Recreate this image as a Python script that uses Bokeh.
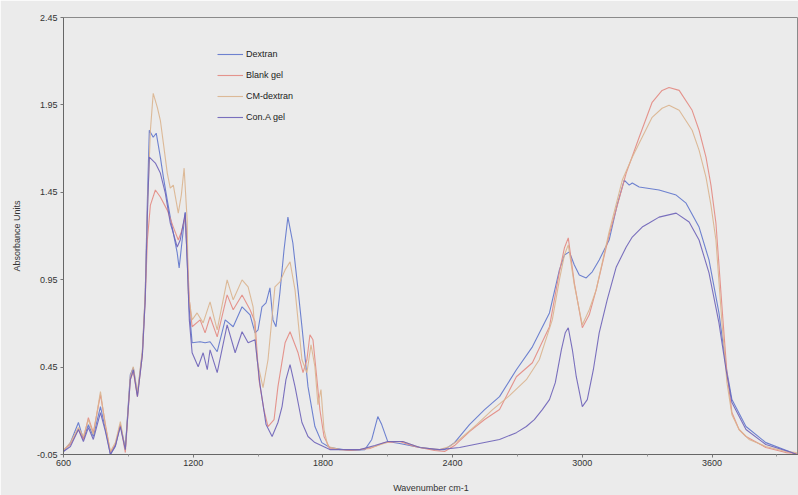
from bokeh.plotting import figure
from bokeh.models import FixedTicker, Legend, LegendItem, PrintfTickFormatter
from bokeh.embed import file_html
from bokeh.resources import INLINE

# ---------------- data ----------------
series_names = ["Dextran", "Blank gel", "CM-dextran", "Con.A gel"]
series_colors = ["#5f76cc", "#e38a82", "#dab48e", "#6d62b8"]

x_ticks = [600, 1200, 1800, 2400, 3000, 3600]
y_ticks = [-0.05, 0.45, 0.95, 1.45, 1.95, 2.45]

dextran_wn = [600, 632, 669, 692, 715, 738, 771, 794, 817, 840,
              863, 886, 909, 923, 942, 965, 978, 988, 997, 1015,
              1029, 1048, 1062, 1080, 1094, 1108, 1126, 1135, 1149, 1163,
              1172, 1182, 1195, 1232, 1255, 1278, 1311, 1348, 1385, 1426,
              1463, 1486, 1500, 1518, 1537, 1555, 1569, 1583, 1601, 1620,
              1638, 1661, 1685, 1703, 1731, 1763, 1795, 1832, 1925, 1994,
              2026, 2054, 2072, 2100, 2155, 2224, 2317, 2363, 2409, 2478,
              2548, 2617, 2695, 2769, 2848, 2894, 2917, 2940, 2963, 2986,
              3018, 3046, 3078, 3124, 3161, 3194, 3217, 3231, 3263, 3355,
              3434, 3480, 3540, 3586, 3632, 3665, 3692, 3757, 3849, 3969,
              3992]
dextran_abs = [-0.033, 0.018, 0.133, 0.036, 0.121, 0.053, 0.224, 0.093, -0.050, -0.004,
               0.121, -0.016, 0.407, 0.447, 0.293, 0.538, 0.863, 1.405, 1.805, 1.765,
               1.788, 1.651, 1.537, 1.405, 1.308, 1.217, 1.103, 1.017, 1.177, 1.337,
               1.063, 0.778, 0.589, 0.595, 0.589, 0.595, 0.538, 0.720, 0.681, 0.795,
               0.749, 0.646, 0.663, 0.795, 0.818, 0.903, 0.720, 0.681, 0.875, 1.120,
               1.308, 1.160, 0.892, 0.681, 0.338, 0.110, 0.018, -0.010, -0.027, -0.022,
               0.036, 0.167, 0.121, 0.024, 0.013, -0.004, -0.022, -0.022, 0.018, 0.121,
               0.207, 0.281, 0.435, 0.566, 0.760, 1.006, 1.091, 1.109, 1.034, 0.977,
               0.960, 0.995, 1.063, 1.177, 1.377, 1.520, 1.491, 1.503, 1.480, 1.463,
               1.434, 1.388, 1.251, 1.063, 0.760, 0.452, 0.264, 0.110, 0.018, -0.039,
               -0.050]

blank_wn = [600, 632, 669, 692, 715, 738, 771, 794, 817, 840,
            863, 886, 909, 923, 942, 965, 978, 988, 1002, 1025,
            1048, 1080, 1108, 1131, 1145, 1163, 1172, 1182, 1195, 1232,
            1255, 1278, 1311, 1357, 1385, 1426, 1463, 1486, 1504, 1527,
            1546, 1574, 1592, 1625, 1648, 1685, 1708, 1726, 1740, 1754,
            1768, 1786, 1805, 1832, 1925, 2017, 2086, 2155, 2224, 2317,
            2363, 2409, 2478, 2548, 2617, 2695, 2769, 2848, 2894, 2917,
            2935, 2963, 3000, 3032, 3064, 3124, 3203, 3263, 3323, 3369,
            3401, 3448, 3508, 3540, 3572, 3595, 3618, 3646, 3669, 3692,
            3725, 3757, 3849, 3941, 3992]
blank_abs = [-0.022, 0.007, 0.093, 0.036, 0.161, 0.075, 0.293, 0.121, -0.039, 0.007,
             0.121, -0.039, 0.378, 0.424, 0.281, 0.521, 0.835, 1.177, 1.377, 1.463,
             1.423, 1.348, 1.251, 1.177, 1.223, 1.308, 1.120, 0.835, 0.681, 0.720,
             0.646, 0.738, 0.623, 0.863, 0.778, 0.863, 0.778, 0.709, 0.378, 0.207,
             0.110, 0.150, 0.338, 0.589, 0.652, 0.532, 0.418, 0.492, 0.635, 0.606,
             0.435, 0.207, 0.053, -0.016, -0.027, -0.016, 0.018, 0.024, -0.004, -0.027,
             -0.033, 0.001, 0.081, 0.150, 0.207, 0.395, 0.475, 0.681, 0.995, 1.131,
             1.189, 0.932, 0.675, 0.749, 0.892, 1.206, 1.560, 1.765, 1.965, 2.033,
             2.050, 2.033, 1.919, 1.805, 1.651, 1.491, 1.274, 0.795, 0.418, 0.190,
             0.093, 0.053, -0.010, -0.039, -0.044]

cm_wn = [600, 632, 669, 692, 715, 738, 771, 794, 817, 840,
         863, 886, 909, 923, 942, 965, 978, 988, 1002, 1015,
         1034, 1048, 1062, 1080, 1094, 1108, 1131, 1145, 1158, 1172,
         1177, 1195, 1218, 1246, 1278, 1311, 1357, 1385, 1426, 1454,
         1477, 1495, 1523, 1546, 1578, 1601, 1625, 1648, 1671, 1703,
         1726, 1745, 1763, 1777, 1791, 1805, 1823, 1878, 1971, 2040,
         2109, 2169, 2248, 2340, 2386, 2432, 2511, 2585, 2663, 2741,
         2801, 2861, 2894, 2917, 2935, 2963, 3000, 3032, 3064, 3124,
         3185, 3231, 3263, 3323, 3369, 3401, 3448, 3508, 3540, 3572,
         3595, 3618, 3646, 3669, 3692, 3725, 3771, 3849, 3941, 3992]
cm_abs = [-0.027, 0.018, 0.104, 0.053, 0.150, 0.064, 0.310, 0.110, -0.033, 0.018,
          0.138, -0.022, 0.395, 0.452, 0.304, 0.549, 0.875, 1.348, 1.805, 2.016,
          1.936, 1.862, 1.731, 1.560, 1.474, 1.491, 1.331, 1.434, 1.588, 1.291,
          0.875, 0.720, 0.760, 0.703, 0.823, 0.663, 0.949, 0.835, 0.949, 0.909,
          0.795, 0.492, 0.332, 0.492, 0.909, 0.937, 1.006, 1.052, 0.892, 0.492,
          0.418, 0.578, 0.452, 0.235, 0.321, 0.093, -0.004, -0.022, -0.022, -0.004,
          0.024, 0.024, -0.010, -0.022, -0.004, 0.036, 0.121, 0.207, 0.287, 0.378,
          0.492, 0.720, 0.949, 1.091, 1.149, 0.920, 0.692, 0.778, 0.892, 1.223,
          1.520, 1.651, 1.731, 1.879, 1.931, 1.948, 1.919, 1.805, 1.691, 1.537,
          1.377, 1.177, 0.703, 0.361, 0.178, 0.093, 0.036, -0.004, -0.033, -0.039]

cona_wn = [600, 632, 669, 692, 715, 738, 771, 794, 817, 840,
           863, 886, 909, 923, 942, 965, 978, 988, 997, 1025,
           1048, 1071, 1094, 1108, 1126, 1140, 1163, 1172, 1182, 1195,
           1223, 1246, 1265, 1278, 1311, 1357, 1394, 1426, 1454, 1486,
           1509, 1537, 1565, 1592, 1611, 1629, 1648, 1671, 1703, 1731,
           1763, 1832, 1971, 2040, 2100, 2169, 2248, 2340, 2432, 2524,
           2617, 2695, 2741, 2778, 2815, 2848, 2875, 2903, 2921, 2935,
           2954, 2972, 3000, 3023, 3051, 3078, 3115, 3157, 3203, 3231,
           3277, 3309, 3355, 3434, 3494, 3540, 3586, 3632, 3665, 3692,
           3757, 3849, 3969, 3992]
cona_abs = [-0.033, -0.004, 0.093, 0.024, 0.104, 0.036, 0.190, 0.081, -0.050, 0.001,
            0.110, -0.022, 0.378, 0.435, 0.281, 0.521, 0.835, 1.320, 1.651, 1.617,
            1.560, 1.445, 1.274, 1.217, 1.137, 1.177, 1.331, 1.063, 0.720, 0.532,
            0.452, 0.532, 0.435, 0.549, 0.418, 0.692, 0.532, 0.652, 0.589, 0.606,
            0.350, 0.121, 0.053, 0.133, 0.224, 0.378, 0.464, 0.338, 0.133, 0.053,
            0.018, -0.022, -0.022, 0.001, 0.024, 0.024, -0.010, -0.022, -0.010, 0.013,
            0.036, 0.075, 0.110, 0.150, 0.207, 0.264, 0.361, 0.549, 0.646, 0.675,
            0.549, 0.395, 0.224, 0.264, 0.435, 0.646, 0.835, 1.023, 1.137, 1.194,
            1.251, 1.274, 1.308, 1.331, 1.280, 1.177, 0.989, 0.703, 0.435, 0.247,
            0.093, 0.007, -0.039, -0.050]

# ---------------- figure ----------------
FONT = "Liberation Sans"
BG = "#ebebeb"

p = figure(width=798, height=495, x_range=(600, 4000), y_range=(-0.05, 2.45),
           output_backend="svg", toolbar_location=None,
           min_border_left=63, min_border_right=0, min_border_top=17, min_border_bottom=40)
p.background_fill_color = BG
p.border_fill_color = BG
p.outline_line_color = "#8a8a8a"
p.grid.visible = False

series = [(dextran_wn, dextran_abs), (blank_wn, blank_abs), (cm_wn, cm_abs), (cona_wn, cona_abs)]
renderers = []
for (xs, ys), name, col in zip(series, series_names, series_colors):
    r = p.line(xs, ys, line_color=col, line_width=1.1, line_alpha=0.9)
    renderers.append((name, r))

# axes
p.xaxis.ticker = FixedTicker(ticks=x_ticks, minor_ticks=[900, 1500, 2100, 2700, 3300, 3900])
p.yaxis.ticker = FixedTicker(ticks=y_ticks)
p.yaxis.formatter = PrintfTickFormatter(format="%.2f")
for ax in (p.xaxis[0], p.yaxis[0]):
    ax.axis_line_color = "#666666"
    ax.major_tick_line_color = "#777777"
    ax.minor_tick_line_color = "#999999"
    ax.major_tick_out = 3
    ax.major_tick_in = 0
    ax.minor_tick_out = 2
    ax.minor_tick_in = 0
    ax.major_label_text_font = FONT
    ax.major_label_text_font_size = "9px"
    ax.major_label_text_color = "#333333"
    ax.axis_label_text_font = FONT
    ax.axis_label_text_font_size = "9px"
    ax.axis_label_text_font_style = "normal"
    ax.axis_label_text_color = "#333333"
p.xaxis.axis_label = "Wavenumber cm-1"
p.yaxis.axis_label = "Absorbance Units"
p.xaxis.major_label_standoff = 2
p.xaxis.axis_label_standoff = 14
p.yaxis.major_label_standoff = 3
p.yaxis.axis_label_standoff = 12

legend = Legend(items=[LegendItem(label=n, renderers=[r]) for n, r in renderers],
                location=(154, 331), padding=0, spacing=9, margin=0,
                glyph_width=26, glyph_height=12, label_height=12, label_standoff=3,
                background_fill_alpha=0, border_line_alpha=0,
                label_text_font=FONT, label_text_font_size="9px", label_text_color="#222222")
p.add_layout(legend)

open("out.html", "w").write(file_html(p, INLINE))
